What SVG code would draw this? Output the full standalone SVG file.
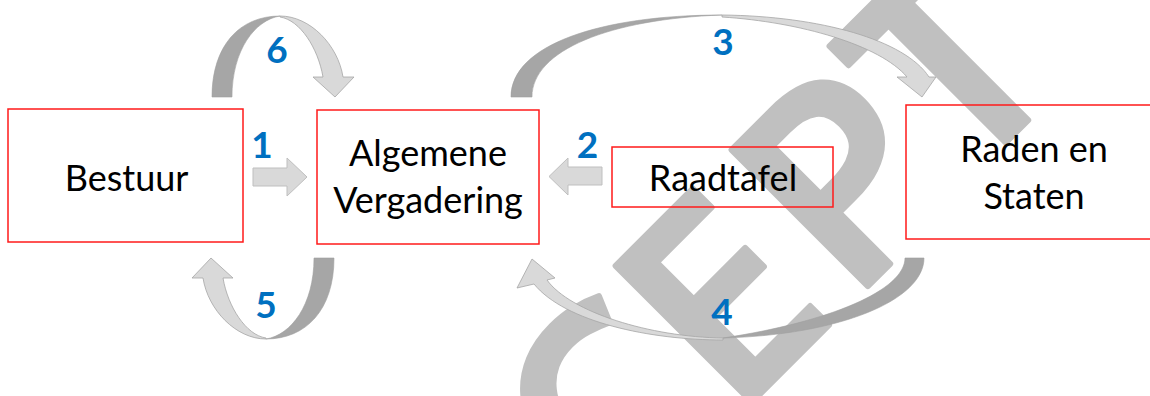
<svg xmlns="http://www.w3.org/2000/svg" width="1150" height="396" viewBox="0 0 1150 396">
<style>
.box{fill:none;stroke:#ff1a1a;stroke-width:1.5}
.lbl{font-family:Lato,"Liberation Sans",sans-serif;font-size:36px;fill:#000;text-anchor:middle}
.num{font-family:Lato,"Liberation Sans",sans-serif;font-weight:bold;font-size:37px;fill:#0070c0;text-anchor:middle}
.dark{fill:#a6a6a6;stroke:#a0a0a0;stroke-width:0.6}
.light{fill:#d9d9d9;stroke:#a6a6a6;stroke-width:0.8;stroke-linejoin:miter}
.block{fill:#d9d9d9;stroke:#bfbfbf;stroke-width:1}
.wm{font-family:"Open Sans","DejaVu Sans",sans-serif;font-weight:600;font-size:270px;fill:#c0c0c0;stroke:#c0c0c0;stroke-width:6;stroke-linejoin:round}
</style>
<rect x="0" y="0" width="1150" height="396" fill="#ffffff"/>
<g id="watermark">
<text class="wm" transform="rotate(-45)" x="52 222 386 550" y="816 816 816 812">CEPT</text>
</g>
<g id="bestuur">
<rect class="box" x="8" y="109" width="235" height="133"/>
<text class="lbl" x="126.5" y="191">Bestuur</text>
</g>
<g id="algemene-vergadering">
<rect class="box" x="317" y="110" width="222" height="134"/>
<text class="lbl" x="428" y="166">Algemene</text>
<text class="lbl" x="428" y="213">Vergadering</text>
</g>
<g id="raadtafel">
<rect class="box" x="612" y="147" width="221" height="60"/>
<text class="lbl" x="723" y="191">Raadtafel</text>
</g>
<g id="raden-en-staten">
<rect class="box" x="906" y="105" width="260" height="134"/>
<text class="lbl" x="1034" y="162">Raden en</text>
<text class="lbl" x="1034" y="209">Staten</text>
</g>
<g id="connectors">
<g id="arrow-1">
<path class="block" d="M253,168 H287 V158 L307,177 L287,196 V186 H253 Z"/>
<text class="num" x="262" y="158">1</text>
</g>
<g id="arrow-2">
<path class="block" d="M602,167 H568 V158 L549,176.5 L568,195 V185 H602 Z"/>
<text class="num" x="587.5" y="158">2</text>
</g>
<g id="arrow-6">
<path class="dark" d="M212,97 C212,45 240,16 280,16 C255,20 232,50 232,97 Z"/>
<path class="light" d="M280,16 C310,16 338,45 343,77 L354,77 L335,97 L313,77 L323,77 C318,48 300,20 280,17 Z"/>
<text class="num" x="277" y="63">6</text>
</g>
<g id="arrow-5">
<g transform="rotate(180 273 177.5)">
<path class="dark" d="M212,97 C212,45 240,16 280,16 C255,20 232,50 232,97 Z"/>
<path class="light" d="M280,16 C310,16 338,45 343,77 L354,77 L335,97 L313,77 L323,77 C318,48 300,20 280,17 Z"/>
</g>
<text class="num" x="266" y="318">5</text>
</g>
<g id="arrow-3">
<path class="dark" d="M511,97 C511,45 600,15 722,15 C610,19 532,50 532,97 Z"/>
<path class="light" d="M722,15 C820,16 905,40 929,77 L936,77 L922,97 L897,77 L907,77 C880,45 800,22 722,17 Z"/>
<text class="num" x="723" y="55">3</text>
</g>
<g id="arrow-4">
<path class="dark" d="M924,258 C924,300 840,335 723,338 C830,322 905,290 905,258 Z"/>
<path class="light" d="M723,338 C650,337 570,312 547,280 L555,278 L532,259 L517,288 L534,284 C565,322 650,340 723,340 Z"/>
<text class="num" x="722" y="325">4</text>
</g>
</g>
</svg>
